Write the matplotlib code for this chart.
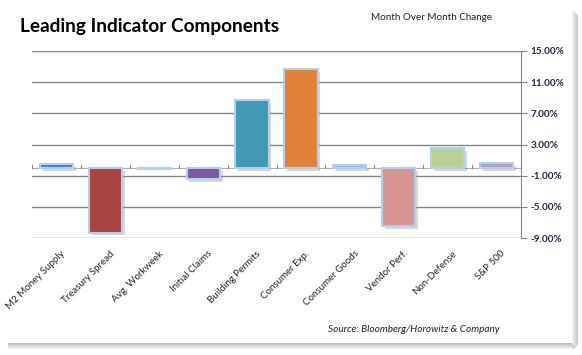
import numpy as np
import matplotlib.pyplot as plt
import matplotlib.patheffects as pe
from matplotlib.patches import Rectangle

categories = ["M2 Money Supply", "Treasury Spread", "Avg. Workweek", "Initial Claims",
              "Building Permits", "Consumer Exp.", "Consumer Goods", "Vendor Perf.",
              "Non-Defense", "S&P 500"]
changes = [0.45, -8.3, -0.1, -1.4, 8.65, 12.7, 0.35, -7.5, 2.5, 0.6]
colors = ["#4A7EBB", "#A84442", "#E6E6E6", "#7A5A9C", "#4399B1",
          "#E0823A", "#9DB9DC", "#D69593", "#BBD194", "#AE9FC5"]
yticks = [-9, -5, -1, 3, 7, 11, 15]

W, H = 582, 355
fig = plt.figure(figsize=(W / 100, H / 100), dpi=100)
fig.patch.set_facecolor("white")

# drop shadow around the chart frame
for k in range(6):
    a = 0.10 + 0.06 * k
    fig.patches.append(Rectangle(((572 + k) / W, (H - 350 + k) / H), 1 / W, (340 - 2 * k) / H,
                                 transform=fig.transFigure, color="0.45", alpha=a, lw=0))
    fig.patches.append(Rectangle((8 / W, (H - 344 - k) / H), (564 + k) / W, 1 / H,
                                 transform=fig.transFigure, color="0.45", alpha=0.45 - 0.07 * k, lw=0))

ax = fig.add_axes([32 / W, 1 - 238 / H, (521 - 32) / W, (238 - 51) / H])
x = np.arange(len(categories))
bars = ax.bar(x, changes, width=0.68, color=colors, edgecolor="#B4CFEE", linewidth=1.5, zorder=3)
for b in bars:
    b.set_path_effects([pe.SimplePatchShadow(offset=(2, -2), shadow_rgbFace="0.5", alpha=0.3),
                        pe.Normal()])

ax.set_xlim(-0.5, len(categories) - 0.5)
ax.set_ylim(-9, 15)
ax.yaxis.tick_right()
ax.set_yticks(yticks)
ax.set_yticklabels([f"{v:.2f}%" for v in yticks], fontsize=7.2, fontweight="bold",
                   color="#1F2A44", family="Lato")
ax.tick_params(axis="y", length=4, color="#868686", pad=3)
ax.grid(axis="y", color="#868686", lw=1, zorder=0)
for s in ["top", "left", "bottom"]:
    ax.spines[s].set_visible(False)
ax.spines["right"].set_color("#868686")

# category axis at zero
ax.axhline(0, color="#B0B0B0", lw=0.8, zorder=2)
ax.set_xticks([])
for i in range(len(categories) + 1):
    ax.plot([i - 0.5, i - 0.5], [0, 0.4], color="#868686", lw=0.8, zorder=2)
for i, name in enumerate(categories):
    ax.annotate(name, xy=(i, -9), xytext=(3, -8), textcoords="offset points",
                rotation=45, ha="right", va="top", rotation_mode="anchor",
                fontsize=7.0, family="Lato", color="#222222", annotation_clip=False)

fig.text(20 / W, 1 - 32 / H, "Leading Indicator Components", fontsize=13.7, fontweight="bold",
         family="Lato", va="baseline", ha="left", color="black")
fig.text(492 / W, 1 - 20 / H, "Month Over Month Change", fontsize=7.1, family="Lato",
         ha="right", va="baseline", color="#222222")
fig.text(500 / W, 1 - 332 / H, "Source: Bloomberg/Horowitz & Company", fontsize=7.2,
         family="Lato", style="italic", ha="right", va="baseline", color="#222222")

fig.savefig("out.png", dpi=100)
